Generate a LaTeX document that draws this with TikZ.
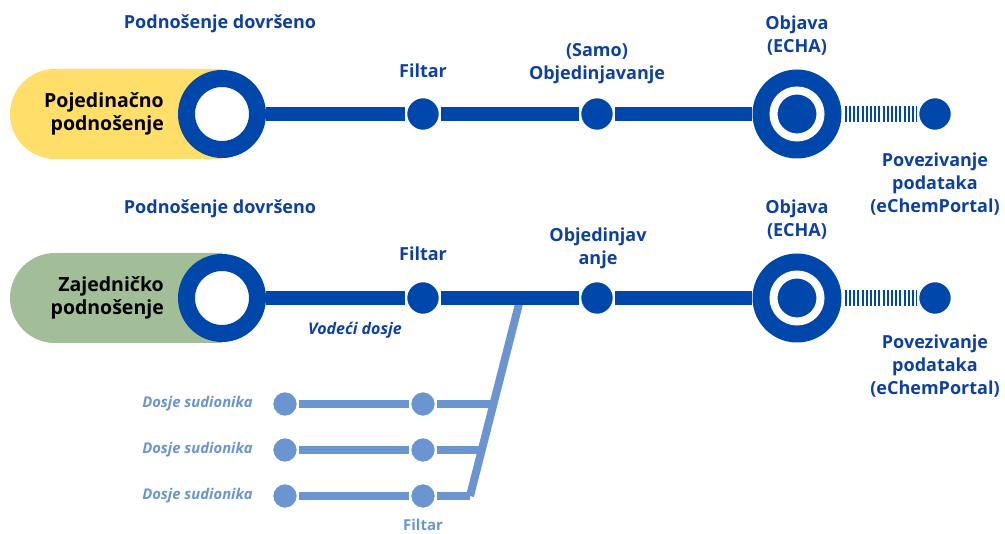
\documentclass[tikz,border=0pt]{standalone}
\usepackage{fontspec}
\setmainfont{Open Sans}
\definecolor{dk}{RGB}{0,71,171}
\definecolor{lt}{RGB}{106,149,208}
\definecolor{yel}{RGB}{255,222,105}
\definecolor{grn}{RGB}{161,190,152}
\definecolor{txt}{RGB}{13,64,160}
\begin{document}
\begin{tikzpicture}[x=1pt,y=-1pt,
 ring/.style={circle, draw=dk, line width=17pt, fill=white, minimum size=71pt, inner sep=0pt},
 dot/.style={circle, fill=dk, draw=white, line width=2.5pt, minimum size=34pt, inner sep=0pt},
 enddisc/.style={circle, fill=dk, minimum size=89pt, inner sep=0pt},
 sdot/.style={circle, fill=lt, draw=white, line width=2.5pt, minimum size=26pt, inner sep=0pt},
 mainline/.style={dk, line width=14pt},
 subline/.style={lt, line width=8pt, line join=round},
 hatch/.style={dk, line width=16pt, dash pattern=on 2pt off 2.2pt, shorten <=3pt},
 lbl/.style={text=txt, font=\bfseries\fontsize{18}{23}\selectfont, align=center, inner sep=0pt},
 blk/.style={text=black, font=\bfseries\fontsize{19.5}{23}\selectfont, align=right, inner sep=0pt, anchor=east},
 ital/.style={text=txt, font=\bfseries\itshape\fontsize{16}{18}\selectfont, inner sep=0pt},
 sital/.style={text=lt, font=\bfseries\itshape\fontsize{14.8}{18}\selectfont, inner sep=0pt, anchor=east},
 slbl/.style={text=lt, font=\bfseries\fontsize{15}{18}\selectfont, inner sep=0pt}
]
\useasboundingbox (0,0) rectangle (1005,534);
% pills
\fill[yel] (55,69) -- (222,69) -- (222,159) -- (55,159) arc[start angle=90, end angle=270, radius=45] -- cycle;
\fill[grn] (55,253) -- (222,253) -- (222,343) -- (55,343) arc[start angle=90, end angle=270, radius=45] -- cycle;

% participant dossiers (drawn first, under the main line)
\coordinate (top) at (520,300);
\coordinate (bot) at (470,496);
\coordinate (j1) at (494,404);
\coordinate (j2) at (482,450);
\node[sdot] (a1) at (285,404) {};
\node[sdot] (a2) at (285,450) {};
\node[sdot] (a3) at (285,496) {};
\node[sdot] (b1) at (423,404) {};
\node[sdot] (b2) at (423,450) {};
\node[sdot] (b3) at (423,496) {};
\draw[subline] (top) -- (bot);
\draw[subline] (a1) -- (b1);
\draw[subline] (a2) -- (b2);
\draw[subline] (a3) -- (b3);
\draw[subline] (b1) -- (j1);
\draw[subline] (b2) -- (j2);
\draw[subline] (b3) -- (bot);

% row 1
\node[ring] (s1) at (222,114) {};
\node[dot] (f1) at (423,114) {};
\node[dot] (o1) at (597,114) {};
\node[enddisc] (e1) at (797,114) {};
\draw[white, line width=8pt] (e1.center) circle (23.5);
\node[dot] (p1) at (935,114) {};
\draw[mainline] (s1) -- (f1);
\draw[mainline] (f1) -- (o1);
\draw[mainline] (o1) -- (e1);
\draw[hatch] (e1) -- (p1);

% row 2
\node[ring] (s2) at (222,298) {};
\node[dot] (f2) at (423,298) {};
\node[dot] (o2) at (597,298) {};
\node[enddisc] (e2) at (797,298) {};
\draw[white, line width=8pt] (e2.center) circle (23.5);
\node[dot] (p2) at (935,298) {};
\draw[mainline] (s2) -- (f2);
\draw[mainline] (f2) -- (o2);
\draw[mainline] (o2) -- (e2);
\draw[hatch] (e2) -- (p2);

% labels row 1
\node[blk] (t1) at (164,114) {Pojedinačno\\podnošenje};
\node[lbl] (l11) at (220,24) {Podnošenje dovršeno};
\node[lbl] (l12) at (423,71) {Filtar};
\node[lbl] (l13) at (597,64) {(Samo)\\Objedinjavanje};
\node[lbl] (l14) at (797,36) {Objava\\(ECHA)};
\node[lbl] (l15) at (935,184) {Povezivanje\\podataka\\(eChemPortal)};

% labels row 2
\node[blk] (t2) at (164,298) {Zajedničko\\podnošenje};
\node[lbl] (l21) at (220,209) {Podnošenje dovršeno};
\node[lbl] (l22) at (423,254) {Filtar};
\node[lbl] (l23) at (598,248) {Objedinjav\\anje};
\node[lbl] (l24) at (797,220) {Objava\\(ECHA)};
\node[lbl] (l25) at (935,366) {Povezivanje\\podataka\\(eChemPortal)};
\node[ital] (vd) at (355,330) {Vodeći dosje};

% participant labels
\node[sital] (d1) at (253,404) {Dosje sudionika};
\node[sital] (d2) at (253,450) {Dosje sudionika};
\node[sital] (d3) at (253,496) {Dosje sudionika};
\node[slbl] (fb) at (423,525) {Filtar};
\end{tikzpicture}
\end{document}
